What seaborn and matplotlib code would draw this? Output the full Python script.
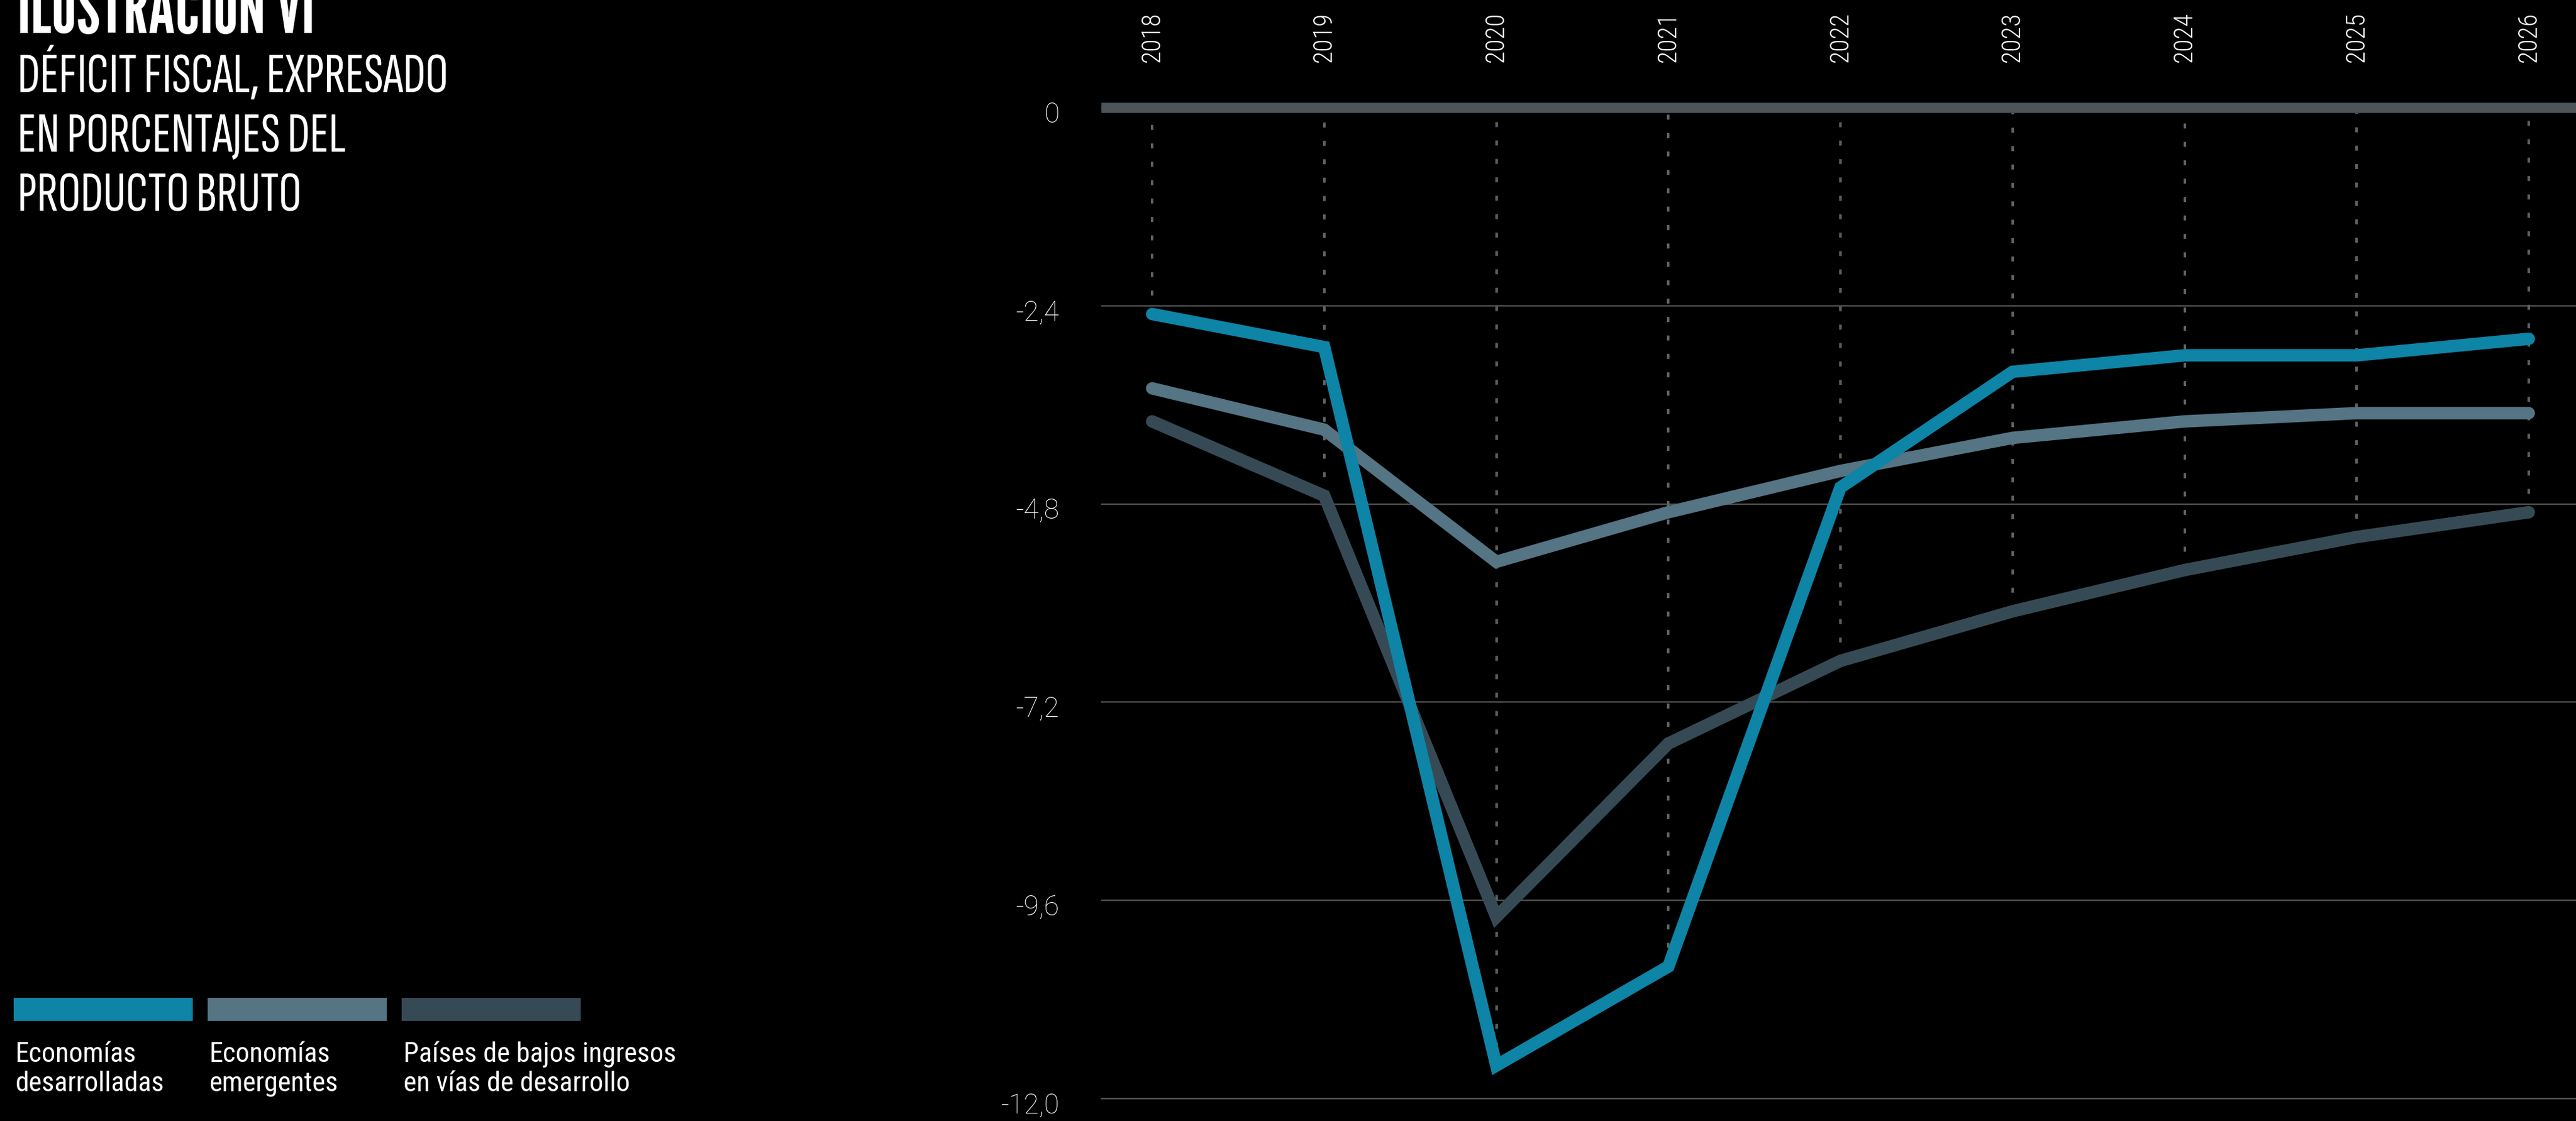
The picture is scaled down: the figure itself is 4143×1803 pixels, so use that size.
import numpy as np
import pandas as pd
import matplotlib
matplotlib.use("Agg")
import matplotlib.pyplot as plt
import seaborn as sns
from matplotlib.textpath import TextPath
from matplotlib.font_manager import FontProperties
from matplotlib.patches import Rectangle
from matplotlib.transforms import ScaledTranslation

# ---------------------------------------------------------------- data
years = [2018, 2019, 2020, 2021, 2022, 2023, 2024, 2025, 2026]
desarrolladas = [-2.5, -2.9, -11.6, -10.4, -4.6, -3.2, -3.0, -3.0, -2.8]
emergentes = [-3.4, -3.9, -5.5, -4.9, -4.4, -4.0, -3.8, -3.7, -3.7]
bajos_ingresos = [-3.8, -4.7, -9.8, -7.7, -6.7, -6.1, -5.6, -5.2, -4.9]

series_names = ["Economías desarrolladas", "Economías emergentes",
                "Países de bajos ingresos en vías de desarrollo"]
legend_labels = [("Economías", "desarrolladas"), ("Economías", "emergentes"),
                 ("Países de bajos ingresos", "en vías de desarrollo")]
series_colors = ["#0e84a6", "#557484", "#364a56"]

y_ticks = [0, -2.4, -4.8, -7.2, -9.6, -12.0]
y_tick_labels = ["0", "-2,4", "-4,8", "-7,2", "-9,6", "-12,0"]
year_labels = [str(y) for y in years]

title = "ILUSTRACIÓN VI"
subtitle_lines = ["DÉFICIT FISCAL, EXPRESADO", "EN PORCENTAJES DEL", "PRODUCTO BRUTO"]

# ---------------------------------------------------------------- canvas
W, H, DPI = 4143, 1803, 100
PT = 72 / DPI  # points per pixel

sns.set_theme(style="dark", rc={
    "figure.facecolor": "black", "axes.facecolor": "black", "savefig.facecolor": "black",
    "axes.edgecolor": "black", "text.color": "white", "xtick.color": "white",
    "ytick.color": "white", "grid.color": "#505050",
})
plt.rcParams["font.family"] = ["Roboto", "DejaVu Sans"]


def fp(family, weight="normal", size=None):
    return FontProperties(family=[family, "DejaVu Sans"], weight=weight, size=size)


def size_for_width(prop, text, width_px):
    w = TextPath((0, 0), text, prop=prop, size=100).get_extents().width
    return width_px * 100 / w * PT


def fig_xy(x_px, y_px):
    return x_px / W, 1 - y_px / H


fig = plt.figure(figsize=(W / DPI, H / DPI), dpi=DPI)

# plot area: x grid starts at 1771 px, zero line at 173 px, -12 at 1767 px
left_px, top_px = 1771, 150
ax = fig.add_axes([left_px / W, 0, (W - left_px) / W, 1 - top_px / H])
ax.set_facecolor("black")
unit_px = (1767 - 173) / 12.0
year_px = (4067 - 1853) / 8.0
ax.set_ylim(-12 - (H - 1767) / unit_px, (173 - top_px) / unit_px)
ax.set_xlim(years[0] - (1853 - left_px) / year_px, years[-1] + (W - 4067) / year_px)

# ---------------------------------------------------------------- lines
df = pd.DataFrame({
    "year": years * 3,
    "value": desarrolladas + emergentes + bajos_ingresos,
    "serie": [n for n in series_names for _ in years],
})
palette = dict(zip(series_names, series_colors))
draw_order = series_names[::-1]  # developed economies drawn on top
sns.lineplot(data=df, x="year", y="value", hue="serie", hue_order=draw_order,
             palette=palette, errorbar=None, legend=False, ax=ax,
             linewidth=20 * PT, solid_capstyle="round", solid_joinstyle="miter", zorder=5)

# dashed year guides, drawn upward from the lowest series (the first one from the top series)
guide_end = np.minimum.reduce([desarrolladas, emergentes, bajos_ingresos])
guide_end[0] = desarrolladas[0]
guide_lw = 4 * PT
ax.vlines(years, guide_end, 0, colors="#5f6265", linewidth=guide_lw,
          linestyles=(0, (8 * PT / guide_lw, 21.6 * PT / guide_lw)), zorder=2)

# heavy zero line with a thin dark-blue rim
ax.axhline(0, color="#17465c", linewidth=17 * PT, solid_capstyle="butt", zorder=3)
ax.axhline(0, color="#4e5458", linewidth=15 * PT, solid_capstyle="butt", zorder=3.1)

# ---------------------------------------------------------------- axes
ax.set_xlabel("")
ax.set_ylabel("")
for s in ax.spines.values():
    s.set_visible(False)
ax.set_axisbelow(True)
ax.yaxis.grid(True, color="#505050", linewidth=2.5 * PT)
ax.xaxis.grid(False)

ax.set_yticks(y_ticks, y_tick_labels)
ax.tick_params(axis="y", length=0, pad=67 * PT, labelcolor="white")
tick_font = fp("Roboto", "light", 32)
shift = ScaledTranslation(0, -7 / DPI, fig.dpi_scale_trans)
for lab in ax.get_yticklabels():
    lab.set_fontproperties(tick_font)
    lab.set_transform(lab.get_transform() + shift)

ax.xaxis.tick_top()
ax.set_xticks(years, year_labels, rotation=90)
ax.tick_params(axis="x", length=0, pad=50 * PT, labelcolor="white")
year_font = fp("Roboto Condensed", "light", 30)
for lab in ax.get_xticklabels():
    lab.set_fontproperties(year_font)

# ---------------------------------------------------------------- titles
title_font = fp("League Gothic", "normal")
title_font.set_size(size_for_width(title_font, title, 469))
fig.text(*fig_xy(28, 53), title, fontproperties=title_font, color="white", va="baseline", ha="left")

sub_font = fp("Sofia Sans Extra Condensed", 300)
sub_font.set_size(size_for_width(sub_font, subtitle_lines[0], 684))
for i, line in enumerate(subtitle_lines):
    fig.text(*fig_xy(28, 148 + i * 96), line, fontproperties=sub_font, color="white",
             va="baseline", ha="left")

# ---------------------------------------------------------------- legend
leg_font = fp("Roboto Condensed", "normal", 32)
for i, (color, (l1, l2)) in enumerate(zip(series_colors, legend_labels)):
    x0 = 22 + i * 312
    fx, fy = fig_xy(x0, 1642)
    fig.patches.append(Rectangle((fx, fy), 288 / W, 37 / H, transform=fig.transFigure,
                                 facecolor=color, edgecolor="none"))
    fig.text(*fig_xy(x0 + 3, 1708), l1, fontproperties=leg_font, color="white", va="baseline")
    fig.text(*fig_xy(x0 + 3, 1755), l2, fontproperties=leg_font, color="white", va="baseline")

fig.savefig("out.png", dpi=DPI, facecolor="black")
